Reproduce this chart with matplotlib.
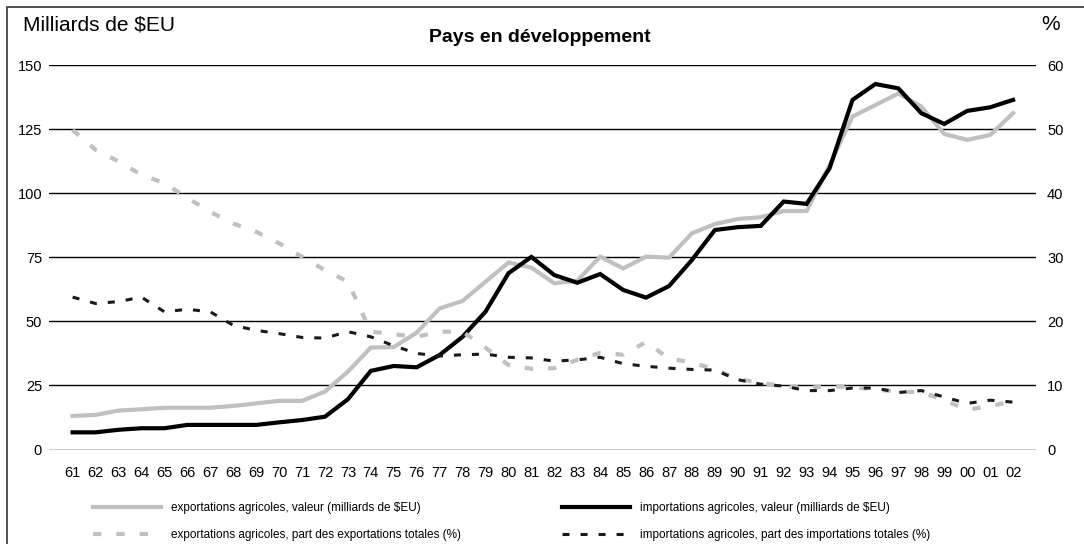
import matplotlib.pyplot as plt
from matplotlib.patches import Rectangle

plt.rcParams['font.family'] = ['Liberation Sans', 'DejaVu Sans']

years = ['61', '62', '63', '64', '65', '66', '67', '68', '69', '70',
         '71', '72', '73', '74', '75', '76', '77', '78', '79', '80',
         '81', '82', '83', '84', '85', '86', '87', '88', '89', '90',
         '91', '92', '93', '94', '95', '96', '97', '98', '99', '00',
         '01', '02']

# values in billions of US$
export_value = [13.1, 13.5, 15.2, 15.7, 16.3, 16.3, 16.3, 17.0, 18.0, 19.0,
                19.0, 22.6, 30.4, 39.8, 40.0, 45.6, 55.1, 58.0, 65.5, 73.0,
                71.0, 64.9, 65.9, 75.3, 70.7, 75.3, 74.9, 84.4, 88.0, 90.0,
                90.7, 93.1, 93.1, 111.0, 130.0, 134.5, 139.0, 133.9, 123.2, 120.9,
                122.8, 131.3]
import_value = [6.7, 6.7, 7.7, 8.3, 8.3, 9.6, 9.6, 9.6, 9.6, 10.6,
                11.5, 12.8, 19.6, 30.7, 32.6, 32.1, 36.9, 44.0, 53.8, 68.8,
                75.2, 68.1, 65.1, 68.5, 62.3, 59.3, 63.8, 74.0, 85.7, 86.8,
                87.3, 96.8, 95.9, 109.8, 136.5, 142.7, 141.0, 131.3, 127.1, 132.2,
                133.6, 136.5]

# shares in percent (right axis)
export_share = [49.9, 46.8, 45.0, 42.9, 41.6, 39.3, 37.1, 35.3, 34.0, 32.2,
                30.1, 28.0, 26.2, 18.4, 18.0, 17.6, 18.4, 18.4, 15.9, 13.2,
                12.6, 12.7, 14.0, 15.1, 14.8, 16.8, 14.2, 13.6, 12.5, 11.0,
                10.4, 9.9, 9.6, 9.9, 9.7, 9.4, 9.0, 9.0, 7.7, 6.2,
                6.8, 7.5]
import_share = [23.8, 22.8, 23.1, 23.8, 21.5, 21.9, 21.5, 19.4, 18.6, 18.1,
                17.5, 17.4, 18.4, 17.6, 16.2, 15.0, 14.6, 14.8, 14.9, 14.4,
                14.3, 13.8, 14.0, 14.4, 13.4, 13.0, 12.7, 12.5, 12.4, 10.9,
                10.2, 9.9, 9.2, 9.2, 9.6, 9.6, 8.9, 9.2, 8.2, 7.2,
                7.7, 7.4]

labels = ['exportations agricoles, valeur (milliards de $EU)',
          'exportations agricoles, part des exportations totales (%)',
          'importations agricoles, valeur (milliards de $EU)',
          'importations agricoles, part des importations totales (%)']

grey = '#c0c0c0'
x = list(range(len(years)))

fig = plt.figure(figsize=(10.84, 5.44), dpi=100)
ax = fig.add_axes([49 / 1084, 1 - 449.5 / 544, 987 / 1084, 384.2 / 544])
ax2 = ax.twinx()

l1, = ax.plot(x, export_value, color=grey, lw=3, solid_joinstyle='miter')
l3, = ax.plot(x, import_value, color='black', lw=3, solid_joinstyle='miter')
l2, = ax2.plot(x, export_share, color=grey, lw=3, dashes=(2, 3.6))
l4, = ax2.plot(x, import_share, color='#1a1a1a', lw=2.2, dashes=(2.3, 3.6))

ax.set_xlim(-1.03, 42.0)
ax.set_ylim(0, 150)
ax2.set_ylim(0, 60)
ax.set_yticks(range(0, 151, 25))
ax2.set_yticks(range(0, 61, 10))
ax.set_xticks(x)
ax.set_xticklabels(years)

ax.grid(axis='y', color='black', lw=1)
ax.set_axisbelow(True)
for a in (ax, ax2):
    for s in a.spines.values():
        s.set_visible(False)
ax.tick_params(axis='x', length=0, pad=12, labelsize=10.5)
ax.tick_params(axis='y', length=0, pad=5, labelsize=10.5)
ax2.tick_params(axis='y', length=0, pad=8, labelsize=10.5)

fig.text(23 / 1084, 1 - 24.5 / 544, 'Milliards de $EU', fontsize=15,
         ha='left', va='center')
fig.text(1041 / 1084, 1 - 24 / 544, '%', fontsize=15, ha='left', va='center')
fig.text(540 / 1084, 1 - 38 / 544, 'Pays en développement', fontsize=14,
         fontweight='bold', ha='center', va='center')

legend_kw = dict(frameon=False, fontsize=8.5, handlelength=5.8,
                 handletextpad=0.8, labelspacing=1.25, borderpad=0,
                 borderaxespad=0, loc='upper left')
fig.legend([l1, l2], labels[:2], bbox_to_anchor=(93 / 1084, 1 - 502 / 544),
           **legend_kw)
fig.legend([l3, l4], labels[2:], bbox_to_anchor=(562 / 1084, 1 - 502 / 544),
           **legend_kw)

# outer frame
fig.patches.append(Rectangle((7 / 1084, -0.1), 1.2, (537 / 544) + 0.1,
                             transform=fig.transFigure, fill=False,
                             edgecolor='#333333', lw=1.2))

fig.savefig('out.png', dpi=100)
